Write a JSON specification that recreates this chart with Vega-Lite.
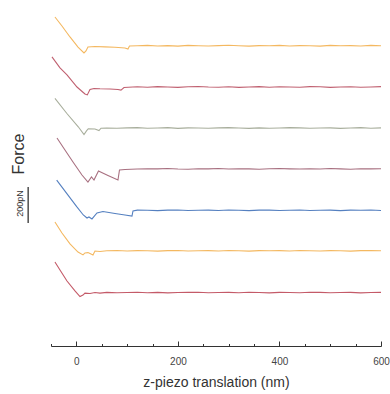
{
 "$schema": "https://vega.github.io/schema/vega-lite/v6.json",
 "width": 330, "height": 340,
 "autosize": {"type": "none"},
 "padding": {"left": 51, "top": 6, "right": 9, "bottom": 48},
 "background": "white",
 "config": {"view": {"stroke": null}, "font": "Liberation Sans"},
 "encoding": {
  "x": {"field": "z", "type": "quantitative",
   "scale": {"domain": [-50, 600], "nice": false, "zero": false},
   "axis": {
    "values": [-50,0,50,100,150,200,250,300,350,400,450,500,550,600],
    "labelExpr": "datum.value % 200 === 0 ? datum.label : ''",
    "tickSize": {"condition": {"test": "datum.value % 200 === 0", "value": -5}, "value": -2.5},
    "tickColor": "#333", "domainColor": "#333", "tickWidth": 1, "domainWidth": 1,
    "labelFontSize": 10, "labelColor": "#444", "labelPadding": 15, "labelFlush": false,
    "grid": false,
    "title": "z-piezo translation (nm)", "titleFontSize": 14, "titleFontWeight": "normal", "titleColor": "#333", "titlePadding": 9
   }},
  "y": {"field": "f", "type": "quantitative", "scale": {"domain": [0, 1889], "nice": false, "zero": false}, "axis": null}
 },
 "layer": [
  {
   "data": {"values": [
    {"s":"1","z":-42.2,"f":1828},{"s":"1","z":-28.4,"f":1778},{"s":"1","z":-12.6,"f":1717},{"s":"1","z":3.2,"f":1661},{"s":"1","z":15,"f":1628},{"s":"1","z":18.9,"f":1639},{"s":"1","z":22.8,"f":1661},{"s":"1","z":36.6,"f":1664},{"s":"1","z":56.3,"f":1662},{"s":"1","z":76,"f":1660},{"s":"1","z":95.7,"f":1656},{"s":"1","z":101.6,"f":1650},{"s":"1","z":104.6,"f":1667},
    {"s":"1","z":120,"f":1668},{"s":"1","z":140,"f":1670},{"s":"1","z":160,"f":1667},{"s":"1","z":180,"f":1669},{"s":"1","z":200,"f":1666},{"s":"1","z":220,"f":1670},{"s":"1","z":240,"f":1668},{"s":"1","z":260,"f":1667},{"s":"1","z":280,"f":1669},{"s":"1","z":300,"f":1671},{"s":"1","z":320,"f":1668},{"s":"1","z":340,"f":1666},{"s":"1","z":360,"f":1669},{"s":"1","z":380,"f":1668},{"s":"1","z":400,"f":1670},{"s":"1","z":420,"f":1667},{"s":"1","z":440,"f":1669},{"s":"1","z":460,"f":1668},{"s":"1","z":480,"f":1666},{"s":"1","z":500,"f":1670},{"s":"1","z":520,"f":1668},{"s":"1","z":540,"f":1669},{"s":"1","z":560,"f":1667},{"s":"1","z":580,"f":1670},{"s":"1","z":600,"f":1668},

    {"s":"2","z":-48.1,"f":1606},{"s":"2","z":-32.3,"f":1545},{"s":"2","z":-18.5,"f":1506},{"s":"2","z":1.2,"f":1439},{"s":"2","z":16.9,"f":1400},{"s":"2","z":21.5,"f":1395},{"s":"2","z":26.8,"f":1425},{"s":"2","z":34.7,"f":1431},{"s":"2","z":46.5,"f":1429},{"s":"2","z":66.2,"f":1428},{"s":"2","z":81.9,"f":1425},{"s":"2","z":87.8,"f":1422},{"s":"2","z":93.8,"f":1436},
    {"s":"2","z":120,"f":1440},{"s":"2","z":140,"f":1438},{"s":"2","z":160,"f":1441},{"s":"2","z":180,"f":1439},{"s":"2","z":200,"f":1437},{"s":"2","z":220,"f":1440},{"s":"2","z":240,"f":1442},{"s":"2","z":260,"f":1439},{"s":"2","z":280,"f":1438},{"s":"2","z":300,"f":1440},{"s":"2","z":320,"f":1437},{"s":"2","z":340,"f":1439},{"s":"2","z":360,"f":1441},{"s":"2","z":380,"f":1438},{"s":"2","z":400,"f":1440},{"s":"2","z":420,"f":1439},{"s":"2","z":440,"f":1438},{"s":"2","z":460,"f":1441},{"s":"2","z":480,"f":1440},{"s":"2","z":500,"f":1437},{"s":"2","z":520,"f":1439},{"s":"2","z":540,"f":1440},{"s":"2","z":560,"f":1438},{"s":"2","z":580,"f":1439},{"s":"2","z":600,"f":1441},

    {"s":"3","z":-42.2,"f":1376},{"s":"3","z":-19.1,"f":1293},{"s":"3","z":3.7,"f":1218},{"s":"3","z":15,"f":1175},{"s":"3","z":19.9,"f":1195},{"s":"3","z":23.4,"f":1207},{"s":"3","z":36.6,"f":1206},{"s":"3","z":44.5,"f":1197},{"s":"3","z":48.5,"f":1210},
    {"s":"3","z":60,"f":1211},{"s":"3","z":80,"f":1210},{"s":"3","z":100,"f":1212},{"s":"3","z":120,"f":1213},{"s":"3","z":140,"f":1210},{"s":"3","z":160,"f":1211},{"s":"3","z":180,"f":1213},{"s":"3","z":200,"f":1209},{"s":"3","z":220,"f":1212},{"s":"3","z":240,"f":1211},{"s":"3","z":260,"f":1210},{"s":"3","z":280,"f":1212},{"s":"3","z":300,"f":1213},{"s":"3","z":320,"f":1211},{"s":"3","z":340,"f":1209},{"s":"3","z":360,"f":1212},{"s":"3","z":380,"f":1210},{"s":"3","z":400,"f":1211},{"s":"3","z":420,"f":1213},{"s":"3","z":440,"f":1212},{"s":"3","z":460,"f":1210},{"s":"3","z":480,"f":1211},{"s":"3","z":500,"f":1212},{"s":"3","z":520,"f":1209},{"s":"3","z":540,"f":1211},{"s":"3","z":560,"f":1213},{"s":"3","z":580,"f":1210},{"s":"3","z":600,"f":1212},

    {"s":"4","z":-38.2,"f":1156},{"s":"4","z":-22.5,"f":1089},{"s":"4","z":-6.7,"f":1022},{"s":"4","z":11,"f":950},{"s":"4","z":22.8,"f":911},{"s":"4","z":29.7,"f":939},{"s":"4","z":34.7,"f":922},{"s":"4","z":43.5,"f":972},{"s":"4","z":62.2,"f":947},{"s":"4","z":81.9,"f":922},{"s":"4","z":84.9,"f":978},{"s":"4","z":95.7,"f":981},
    {"s":"4","z":120,"f":983},{"s":"4","z":140,"f":985},{"s":"4","z":160,"f":984},{"s":"4","z":180,"f":986},{"s":"4","z":200,"f":983},{"s":"4","z":220,"f":982},{"s":"4","z":240,"f":985},{"s":"4","z":260,"f":984},{"s":"4","z":280,"f":986},{"s":"4","z":300,"f":983},{"s":"4","z":320,"f":985},{"s":"4","z":340,"f":984},{"s":"4","z":360,"f":982},{"s":"4","z":380,"f":985},{"s":"4","z":400,"f":986},{"s":"4","z":420,"f":984},{"s":"4","z":440,"f":983},{"s":"4","z":460,"f":985},{"s":"4","z":480,"f":983},{"s":"4","z":500,"f":986},{"s":"4","z":520,"f":984},{"s":"4","z":540,"f":982},{"s":"4","z":560,"f":985},{"s":"4","z":580,"f":984},{"s":"4","z":600,"f":985},

    {"s":"5","z":-38.8,"f":922},{"s":"5","z":-19.1,"f":848},{"s":"5","z":0.6,"f":774},{"s":"5","z":13.6,"f":728},{"s":"5","z":20.9,"f":711},{"s":"5","z":24.8,"f":717},{"s":"5","z":30.7,"f":706},{"s":"5","z":40.6,"f":739},{"s":"5","z":52.4,"f":747},{"s":"5","z":76,"f":736},{"s":"5","z":95.7,"f":728},{"s":"5","z":109.5,"f":722},{"s":"5","z":111.5,"f":750},
    {"s":"5","z":120,"f":755},{"s":"5","z":140,"f":754},{"s":"5","z":160,"f":752},{"s":"5","z":180,"f":755},{"s":"5","z":200,"f":756},{"s":"5","z":220,"f":753},{"s":"5","z":240,"f":754},{"s":"5","z":260,"f":755},{"s":"5","z":280,"f":753},{"s":"5","z":300,"f":756},{"s":"5","z":320,"f":754},{"s":"5","z":340,"f":752},{"s":"5","z":360,"f":755},{"s":"5","z":380,"f":755},{"s":"5","z":400,"f":753},{"s":"5","z":420,"f":754},{"s":"5","z":440,"f":756},{"s":"5","z":460,"f":753},{"s":"5","z":480,"f":754},{"s":"5","z":500,"f":755},{"s":"5","z":520,"f":752},{"s":"5","z":540,"f":755},{"s":"5","z":560,"f":754},{"s":"5","z":580,"f":756},{"s":"5","z":600,"f":753},

    {"s":"6","z":-42.2,"f":689},{"s":"6","z":-28.4,"f":628},{"s":"6","z":-12.6,"f":567},{"s":"6","z":3.2,"f":522},{"s":"6","z":13,"f":506},{"s":"6","z":16.9,"f":517},{"s":"6","z":22.8,"f":519},{"s":"6","z":26.8,"f":514},{"s":"6","z":32.7,"f":506},{"s":"6","z":36.6,"f":528},{"s":"6","z":46.5,"f":525},
    {"s":"6","z":60,"f":529},{"s":"6","z":80,"f":531},{"s":"6","z":100,"f":528},{"s":"6","z":120,"f":530},{"s":"6","z":140,"f":529},{"s":"6","z":160,"f":527},{"s":"6","z":180,"f":530},{"s":"6","z":200,"f":531},{"s":"6","z":220,"f":528},{"s":"6","z":240,"f":529},{"s":"6","z":260,"f":530},{"s":"6","z":280,"f":528},{"s":"6","z":300,"f":531},{"s":"6","z":320,"f":529},{"s":"6","z":340,"f":527},{"s":"6","z":360,"f":530},{"s":"6","z":380,"f":529},{"s":"6","z":400,"f":530},{"s":"6","z":420,"f":528},{"s":"6","z":440,"f":531},{"s":"6","z":460,"f":529},{"s":"6","z":480,"f":528},{"s":"6","z":500,"f":530},{"s":"6","z":520,"f":529},{"s":"6","z":540,"f":527},{"s":"6","z":560,"f":530},{"s":"6","z":580,"f":531},{"s":"6","z":600,"f":529},

    {"s":"7","z":-42.2,"f":467},{"s":"7","z":-32.3,"f":422},{"s":"7","z":-18.5,"f":361},{"s":"7","z":-2.8,"f":306},{"s":"7","z":7.1,"f":275},{"s":"7","z":13,"f":283},{"s":"7","z":16.9,"f":294},{"s":"7","z":26.8,"f":292},{"s":"7","z":36.6,"f":297},{"s":"7","z":46.5,"f":294},
    {"s":"7","z":60,"f":298},{"s":"7","z":80,"f":296},{"s":"7","z":100,"f":297},{"s":"7","z":120,"f":299},{"s":"7","z":140,"f":296},{"s":"7","z":160,"f":298},{"s":"7","z":180,"f":295},{"s":"7","z":200,"f":297},{"s":"7","z":220,"f":298},{"s":"7","z":240,"f":299},{"s":"7","z":260,"f":296},{"s":"7","z":280,"f":297},{"s":"7","z":300,"f":298},{"s":"7","z":320,"f":296},{"s":"7","z":340,"f":299},{"s":"7","z":360,"f":297},{"s":"7","z":380,"f":295},{"s":"7","z":400,"f":298},{"s":"7","z":420,"f":297},{"s":"7","z":440,"f":296},{"s":"7","z":460,"f":299},{"s":"7","z":480,"f":298},{"s":"7","z":500,"f":296},{"s":"7","z":520,"f":297},{"s":"7","z":540,"f":298},{"s":"7","z":560,"f":295},{"s":"7","z":580,"f":297},{"s":"7","z":600,"f":298}
   ]},
   "mark": {"type": "line", "strokeWidth": 1.1},
   "encoding": {
    "color": {"field": "s", "type": "nominal",
     "scale": {"domain": ["1","2","3","4","5","6","7"], "range": ["#f4b860","#c06070","#a8ae9c","#a87080","#5580c0","#f4b860","#c45a68"]},
     "legend": null}
   }
  },
  {
   "data": {"values": [{"z": -95, "f": 683, "f2": 883}]},
   "mark": {"type": "rule", "color": "#333", "strokeWidth": 1.3, "clip": false},
   "encoding": {"y2": {"field": "f2"}}
  },
  {
   "data": {"values": [{"z": -111, "f": 792, "t": "200pN"}]},
   "mark": {"type": "text", "angle": 270, "align": "center", "baseline": "middle", "fontSize": 9, "color": "#333", "clip": false},
   "encoding": {"text": {"field": "t"}}
  },
  {
   "data": {"values": [{"z": -113, "f": 1067, "t": "Force"}]},
   "mark": {"type": "text", "angle": 270, "align": "center", "baseline": "middle", "fontSize": 16, "color": "#333", "clip": false},
   "encoding": {"text": {"field": "t"}}
  }
 ]
}
